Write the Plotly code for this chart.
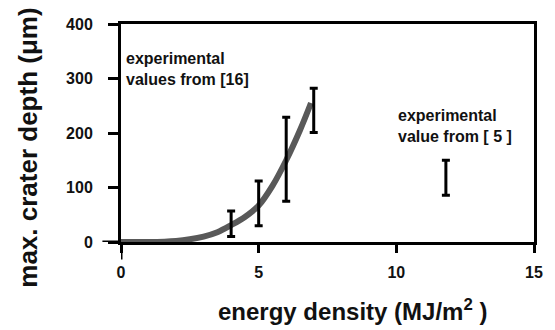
import plotly.graph_objects as go

# fitted curve (model)
curve_x = [0, 1, 2, 2.5, 3, 3.5, 4, 4.5, 5, 5.5, 6, 6.5, 6.9]
curve_y = [0, 0, 2, 5, 10, 18, 31, 46, 67, 103, 150, 205, 255]

# experimental values from [16]
exp16_x = [4, 5, 6, 7]
exp16_y = [33, 70, 152, 242]
exp16_hi = [57, 112, 229, 282]
exp16_lo = [10, 30, 75, 201]

# experimental value from [5]
exp5_x = [11.8]
exp5_y = [118]
exp5_hi = [150]
exp5_lo = [86]

x_ticks = [0, 5, 10, 15]
y_ticks = [0, 100, 200, 300, 400]

def err(y, hi, lo):
    return [h - v for v, h in zip(y, hi)], [v - l for v, l in zip(y, lo)]

fig = go.Figure()
fig.add_trace(go.Scatter(x=curve_x, y=curve_y, mode="lines", line=dict(color="#595959", width=6, shape="spline"),
                         showlegend=False))
for xs, ys, hi, lo in [(exp16_x, exp16_y, exp16_hi, exp16_lo), (exp5_x, exp5_y, exp5_hi, exp5_lo)]:
    up, dn = err(ys, hi, lo)
    fig.add_trace(go.Scatter(x=xs, y=ys, mode="markers", marker=dict(size=1, color="rgba(0,0,0,0)"),
                             error_y=dict(type="data", array=up, arrayminus=dn, color="black", thickness=3, width=4),
                             showlegend=False))

font = "Liberation Sans, Arial, sans-serif"
fig.add_annotation(x=0.11, y=356, xanchor="left", yanchor="top", showarrow=False, align="left",
                   text="<b>experimental<br>values from [16]</b>", font=dict(family=font, size=16, color="#111"))
fig.add_annotation(x=10.0, y=252, xanchor="left", yanchor="top", showarrow=False, align="left",
                   text="<b>experimental<br>value from [ 5 ]</b>", font=dict(family=font, size=16, color="#111"))

# axis titles
fig.add_annotation(xref="paper", yref="paper", x=0.56, y=-0.312, xanchor="center", yanchor="middle",
                   showarrow=False, text="<b>energy density (MJ/m<sup>2</sup> )</b>",
                   font=dict(family=font, size=24, color="#111"))
fig.add_annotation(xref="paper", yref="paper", x=-0.226, y=0.431, xanchor="center", yanchor="middle",
                   showarrow=False, textangle=-90, text="<b>max. crater depth (μm)</b>",
                   font=dict(family=font, size=26, color="#111"))

# extended zero lines
fig.add_shape(type="line", xref="paper", yref="y", x0=-0.045, x1=0, y0=0, y1=0, line=dict(color="black", width=3))
fig.add_shape(type="line", xref="x", yref="paper", x0=0, x1=0, y0=0, y1=-0.08, line=dict(color="black", width=3))

fig.update_xaxes(range=[0, 15], tickvals=x_ticks, ticktext=[f"<b>{v}</b>" for v in x_ticks],
                 showgrid=False, zeroline=False,
                 showline=True, linecolor="black", linewidth=3, mirror=True,
                 ticks="outside", ticklen=8, tickwidth=3, tickcolor="black", ticklabelstandoff=6,
                 tickfont=dict(family=font, size=16, color="#111"))
fig.update_yaxes(range=[0, 400], tickvals=y_ticks, ticktext=[f"<b>{v}</b>" for v in y_ticks],
                 showgrid=False, zeroline=False,
                 showline=True, linecolor="black", linewidth=3, mirror=True,
                 ticks="outside", ticklen=10, tickwidth=3, tickcolor="black", ticklabelstandoff=12,
                 tickfont=dict(family=font, size=16, color="#111"))
fig.update_layout(width=555, height=330, margin=dict(l=121, r=18, t=24, b=88),
                  plot_bgcolor="white", paper_bgcolor="white")
fig.write_html("out.html")
